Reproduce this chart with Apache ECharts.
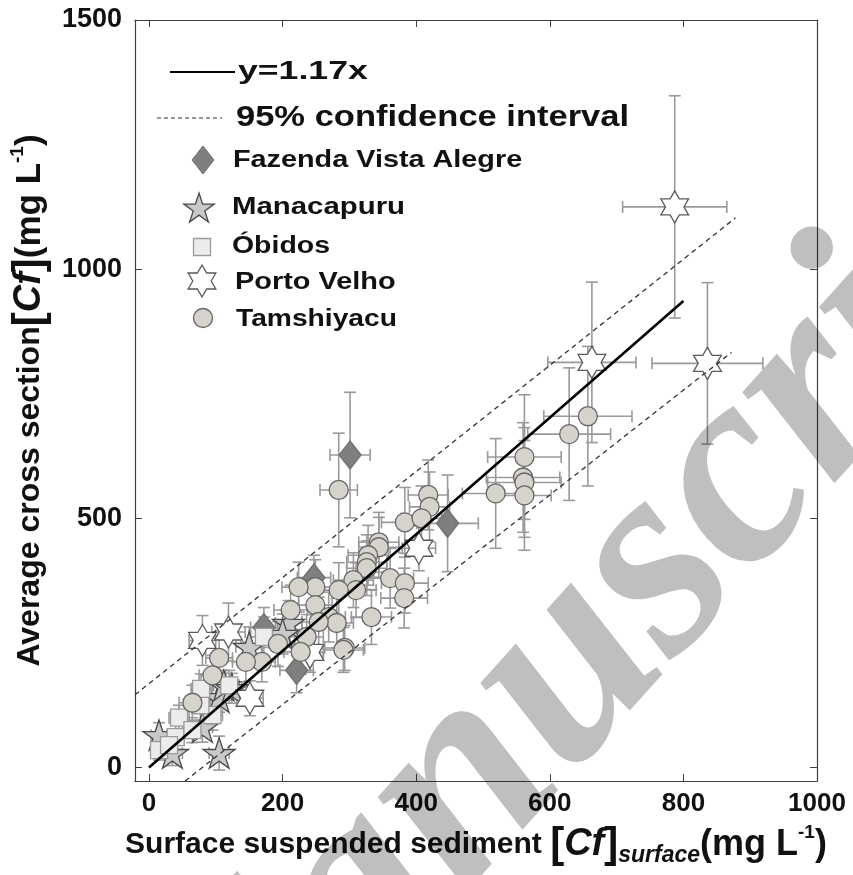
<!DOCTYPE html>
<html><head><meta charset="utf-8">
<script src="https://cdn.jsdelivr.net/npm/echarts@6/dist/echarts.min.js"></script>
<style>html,body{margin:0;padding:0;background:#fff}#c{width:853px;height:875px}</style>
</head><body><div id="c"></div>
<script>
// ---- data: [x, y, xError, yError] in mg/L ----
const xTicks = [0, 200, 400, 600, 800, 1000];
const yTicks = [0, 500, 1000, 1500];
const fazenda = [[301,627,30,126],[447,490,46,97],[221,195,25,45],[247,381,25,45],[172,281,20,40]];
const manacapuru = [[35,29,15,25],[15,65,12,25],[105,29,15,34],[80,81,15,30],[105,141,15,30],[112,165,15,30],[124,159,15,30],[150,242,20,40],[209,290,20,45],[200,268,20,40]];
const obidos = [[15,35,12,20],[40,61,12,25],[45,100,15,25],[65,75,15,25],[95,105,15,30],[77,125,15,30],[78,158,15,30],[172,262,20,40],[120,165,15,30],[30,45,12,20]];
const portoVelho = [[787,1125,78,223],[836,811,83,162],[663,813,66,161],[404,440,25,45],[80,255,20,50],[119,272,25,58],[151,139,20,35],[241,231,20,40]];
const tamshiyacu = [[657,705,66,140],[629,669,62,133],[562,623,55,125],[560,582,55,110],[562,572,55,110],[562,546,40,110],[519,550,50,110],
[284,557,28,114],[418,547,30,70],[420,523,30,70],[383,492,35,70],[408,500,30,65],
[344,452,30,60],[344,442,30,60],[328,426,30,60],[326,412,30,55],[326,400,30,55],
[306,376,30,55],[310,356,30,55],[361,380,35,60],[383,370,35,60],[382,340,35,60],
[284,356,30,55],[249,362,30,55],[224,362,25,50],[249,326,25,50],[212,316,25,50],
[269,302,25,50],[281,290,25,50],[333,302,30,55],[254,292,25,50],[236,262,25,45],
[227,232,25,45],[193,248,25,45],[169,212,20,40],[145,212,20,40],[293,240,30,45],
[291,236,30,45],[105,220,20,40],[95,185,20,40],[65,130,20,35]];
const fitLine = [[0,0],[800,936]];          // y = 1.17x
const ciUpper = [[-21,146],[878,1103]];
const ciLower = [[54,-27],[872,833]];

const F = "'Liberation Sans', Arial, sans-serif";
const hexPath = 'path://M0,-10 L2.887,-5 L8.660,-5 L5.774,0 L8.660,5 L2.887,5 L0,10 L-2.887,5 L-8.660,5 L-5.774,0 L-8.660,-5 L-2.887,-5 Z';
const starPath = 'path://M0,-10 L2.245,-3.090 L9.511,-3.090 L3.633,1.180 L5.878,8.090 L0,3.82 L-5.878,8.090 L-3.633,1.180 L-9.511,-3.090 L-2.245,-3.090 Z';

function errRender(params, api) {
  const x = api.value(0), y = api.value(1), xe = api.value(2), ye = api.value(3);
  const c = api.coord([x, y]);
  const l = api.coord([x - xe, y])[0], r = api.coord([x + xe, y])[0];
  const t = api.coord([x, y + ye])[1], b = api.coord([x, y - ye])[1];
  const cap = 6;
  const st = {stroke: '#9a9a9a', lineWidth: 1.6, fill: null};
  const L = (x1,y1,x2,y2) => ({type:'line', shape:{x1,y1,x2,y2}, style: st});
  return {type:'group', children:[
    L(l, c[1], r, c[1]), L(l, c[1]-cap, l, c[1]+cap), L(r, c[1]-cap, r, c[1]+cap),
    L(c[0], t, c[0], b), L(c[0]-cap, t, c[0]+cap, t), L(c[0]-cap, b, c[0]+cap, b)
  ]};
}
function errSeries(data) {
  return {type:'custom', data, renderItem: errRender, clip: true, encode:{x:0, y:1}, silent:true};
}
function scat(name, data, symbol, size, fill, stroke) {
  return {type:'scatter', name, data: data.map(d => [d[0], d[1]]), symbol, symbolSize: size,
    symbolKeepAspect: true, itemStyle:{color: fill, borderColor: stroke, borderWidth: 1.3, opacity: 1}, silent:true};
}

function polyStar(cx, cy, r, n, ri) {
  const pts = [];
  for (let k = 0; k < 2*n; k++) {
    const a = -Math.PI/2 + k*Math.PI/n;
    const rr = k % 2 ? ri : r;
    pts.push([cx + rr*Math.cos(a), cy + rr*Math.sin(a)]);
  }
  return pts;
}

const legendText = (txt, x, y, size, sx) => ({type:'text', x, y, scaleX: sx, z: 100,
  style:{text: txt, fontFamily: F, fontWeight:'bold', fontSize: size, fill:'#111', align:'left', verticalAlign:'middle'}});

const richX = {
  t:{fontSize:30, fontWeight:'bold', fontFamily:F, color:'#111', lineHeight:44, verticalAlign:'middle'},
  u:{fontSize:36, fontWeight:'bold', fontFamily:F, color:'#111', lineHeight:44, verticalAlign:'middle'},
  b:{fontSize:42, fontWeight:'bold', fontFamily:F, color:'#111', lineHeight:44, verticalAlign:'middle'},
  i:{fontSize:38, fontWeight:'bold', fontStyle:'italic', fontFamily:F, color:'#111', lineHeight:44, verticalAlign:'middle'},
  s:{fontSize:23, fontWeight:'bold', fontStyle:'italic', fontFamily:F, color:'#111', lineHeight:20, verticalAlign:'bottom'},
  p:{fontSize:19, fontWeight:'bold', fontFamily:F, color:'#111', lineHeight:18, verticalAlign:'top'}
};
const richY = Object.assign({}, richX, {
  t:{fontSize:32, fontWeight:'bold', fontFamily:F, color:'#111', lineHeight:44, verticalAlign:'middle'},
  u:{fontSize:35, fontWeight:'bold', fontFamily:F, color:'#111', lineHeight:44, verticalAlign:'middle'}
});

const axisCommon = {
  type:'value', splitLine:{show:false},
  axisLine:{show:true, onZero:false, lineStyle:{color:'#404040', width:1.2}},
};
const plain = v => String(v);

const chart = echarts.init(document.getElementById('c'), null, {renderer:'canvas'});
chart.setOption({
  animation:false,
  backgroundColor:'#fff',
  grid:{left:133, right:36, top:20, bottom:94},
  xAxis:[
    Object.assign({}, axisCommon, {min:-21, max:1000, position:'bottom',
      axisTick:{show:true, inside:true, length:7, customValues:xTicks, lineStyle:{color:'#404040'}},
      axisLabel:{customValues:xTicks, formatter: plain, fontSize:26, fontWeight:'bold', fontFamily:F, color:'#111', margin:10},
      name:'{t|Surface suspended sediment }{b|[}{i|Cf}{b|]}{s|surface}{u|(mg L}{p|-1}{u|)}',
      nameLocation:'middle', nameGap:42, nameTextStyle:{rich: richX}}),
    Object.assign({}, axisCommon, {min:-21, max:1000, position:'top',
      axisTick:{show:true, inside:true, length:7, customValues:xTicks, lineStyle:{color:'#404040'}},
      axisLabel:{show:false}})
  ],
  yAxis:[
    Object.assign({}, axisCommon, {min:-27, max:1500, position:'left',
      axisTick:{show:true, inside:true, length:7, customValues:yTicks, lineStyle:{color:'#404040'}},
      axisLabel:{customValues:yTicks, formatter: plain, fontSize:27, fontWeight:'bold', fontFamily:F, color:'#111', margin:13},
      name:'{t|Average cross section}{b|[}{i|Cf}{b|]}{u|(mg L}{p|-1}{u|)}',
      nameLocation:'middle', nameGap:71, nameRotate:90, nameTextStyle:{rich: richY}}),
    Object.assign({}, axisCommon, {min:-27, max:1500, position:'right',
      axisTick:{show:true, inside:true, length:7, customValues:yTicks, lineStyle:{color:'#404040'}},
      axisLabel:{show:false}})
  ],
  series:[
    errSeries(fazenda), scat('Fazenda Vista Alegre', fazenda, 'diamond', [22,28], '#7f7f7f', '#707070'),
    errSeries(manacapuru), scat('Manacapuru', manacapuru, starPath, 32, '#c9c9c9', '#4a4a4a'),
    errSeries(obidos), scat('Óbidos', obidos, 'rect', 17, '#ececec', '#9a9a9a'),
    errSeries(portoVelho), scat('Porto Velho', portoVelho, hexPath, 32, '#ffffff', '#5a5a5a'),
    errSeries(tamshiyacu), scat('Tamshiyacu', tamshiyacu, 'circle', 19, '#d6d3cc', '#666666'),
    {type:'line', name:'y=1.17x', data: fitLine, symbol:'none', lineStyle:{color:'#000', width:2.6}, silent:true, z:5},
    {type:'line', name:'95% CI upper', data: ciUpper, symbol:'none', lineStyle:{color:'#333', width:1.3, type:[5,4]}, silent:true, z:5},
    {type:'line', name:'95% CI lower', data: ciLower, symbol:'none', lineStyle:{color:'#333', width:1.3, type:[5,4]}, silent:true, z:5}
  ],
  graphic:[
    {type:'line', z:100, shape:{x1:170, y1:72, x2:235, y2:72}, style:{stroke:'#000', lineWidth:2}},
    legendText('y=1.17x', 238, 72, 26, 1.37),
    {type:'line', z:100, shape:{x1:157, y1:118, x2:222, y2:118}, style:{stroke:'#333', lineWidth:1.2, lineDash:[4,3]}},
    legendText('95% confidence interval', 236, 118, 30, 1.15),
    {type:'polygon', z:100, shape:{points:[[203,146],[214,160],[203,174],[192,160]]}, style:{fill:'#7f7f7f', stroke:'#707070'}},
    legendText('Fazenda Vista Alegre', 233, 160, 24, 1.2),
    {type:'polygon', z:100, shape:{points: polyStar(199, 209, 16, 5, 6.1)}, style:{fill:'#c9c9c9', stroke:'#4a4a4a', lineWidth:1.3}},
    legendText('Manacapuru', 232, 208, 23.5, 1.25),
    {type:'rect', z:100, shape:{x:193.5, y:238.5, width:17, height:17}, style:{fill:'#ececec', stroke:'#9a9a9a', lineWidth:1.3}},
    legendText('Óbidos', 232, 247, 23.5, 1.21),
    {type:'polygon', z:100, shape:{points: polyStar(202, 281, 16, 6, 9.24)}, style:{fill:'#fff', stroke:'#5a5a5a', lineWidth:1.3}},
    legendText('Porto Velho', 235, 283, 23.5, 1.23),
    {type:'circle', z:100, shape:{cx:203, cy:318, r:9.5}, style:{fill:'#d6d3cc', stroke:'#666', lineWidth:1.3}},
    legendText('Tamshiyacu', 236, 320, 23.5, 1.2),
    {type:'text', z:200, x:252, y:1232, rotation: 48*Math.PI/180,
      style:{text:'Manuscri', fontFamily:"'Liberation Serif', serif", fontStyle:'italic', fontWeight:'bold', fontSize:282, fill:'rgba(0,0,0,0.25)', align:'left', verticalAlign:'bottom'}}
  ]
});
</script></body></html>
